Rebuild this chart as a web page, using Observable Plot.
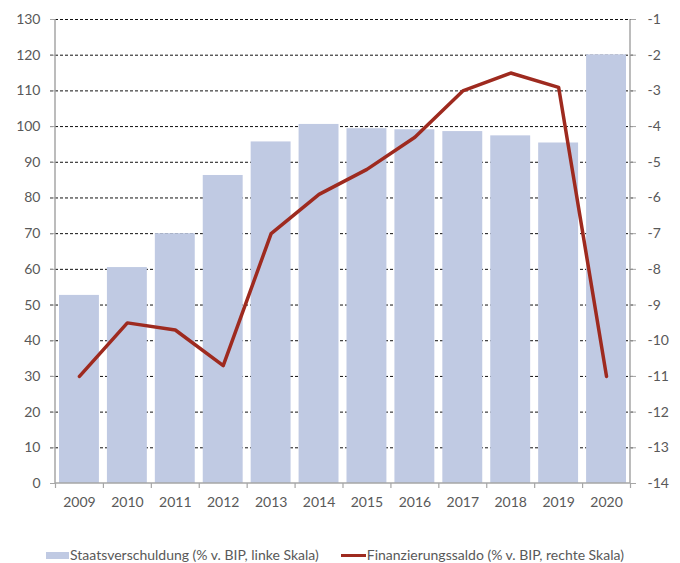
<!DOCTYPE html>
<html>
<head>
<meta charset="utf-8">
<script src="https://cdn.jsdelivr.net/npm/d3@7"></script>
<script src="https://cdn.jsdelivr.net/npm/@observablehq/plot@0.6"></script>
<style>
  html, body { margin: 0; padding: 0; background: #fff; }
  #chart { width: 680px; height: 563px; position: relative; font-family: Lato, "Open Sans", sans-serif; }
  .legend { display: flex; justify-content: center; align-items: center; gap: 22px; margin-top: 22px; margin-left: -10px;
            font-size: 14px; line-height: 16px; color: #595959; font-family: Lato, "Open Sans", sans-serif; }
  .legend .item { display: flex; align-items: center; }
  .sw-bar { width: 23px; height: 7px; background: #c0cae3; margin-right: 1px; }
  .sw-line { width: 25px; height: 3px; background: #9e2a1f; margin-right: 1px; }
</style>
</head>
<body>
<div id="chart"></div>
<script>
const years = [2009, 2010, 2011, 2012, 2013, 2014, 2015, 2016, 2017, 2018, 2019, 2020];
const debt = [52.7, 60.5, 70.0, 86.3, 95.7, 100.6, 99.4, 99.1, 98.6, 97.4, 95.4, 120.1];
const balance = [-11.0, -9.5, -9.7, -10.7, -7.0, -5.9, -5.2, -4.3, -3.0, -2.5, -2.9, -11.0];
const leftTicks = [0, 10, 20, 30, 40, 50, 60, 70, 80, 90, 100, 110, 120, 130];
const rightTicks = [-14, -13, -12, -11, -10, -9, -8, -7, -6, -5, -4, -3, -2, -1];
const seriesNames = ["Staatsverschuldung (% v. BIP, linke Skala)", "Finanzierungssaldo (% v. BIP, rechte Skala)"];

const toLeft = v => (v + 14) * 10; // right scale [-14,-1] -> left scale [0,130]
const table = years.map((year, i) => ({year: String(year), debt: debt[i], balance: balance[i]}));
const yearStr = years.map(String);

const W = 680, H = 525, mL = 55, mR = 50, mT = 19, mB = 42;
const step = (W - mL - mR) / yearStr.length;

const textColor = "#595959";
const axisColor = "#a6a6a6";

const axisLines = (index, scales, values, dimensions) => {
  const {width, marginLeft, marginRight} = dimensions;
  const g = d3.create("svg:g").attr("stroke", axisColor).attr("stroke-width", 1.5).attr("fill", "none");
  const y0 = scales.y(0), y1 = scales.y(130);
  g.append("line").attr("x1", marginLeft).attr("x2", marginLeft).attr("y1", y0).attr("y2", y1);
  g.append("line").attr("x1", width - marginRight).attr("x2", width - marginRight).attr("y1", y0).attr("y2", y1);
  g.append("line").attr("x1", marginLeft).attr("x2", width - marginRight).attr("y1", y0).attr("y2", y0);
  return g.node();
};

const plot = Plot.plot({
  width: W,
  height: H,
  marginTop: mT,
  marginBottom: mB,
  marginLeft: mL,
  marginRight: mR,
  style: {fontFamily: "Lato, 'Open Sans', sans-serif", fontSize: "14px", color: textColor, background: "#fff"},
  x: {type: "band", domain: yearStr, padding: 0, round: false, axis: null},
  y: {domain: [0, 130], axis: null},
  marks: [
    Plot.ruleY(leftTicks.filter(t => t > 0), {stroke: "#111", strokeWidth: 1, strokeDasharray: "3,2", insetLeft: -5, insetRight: -5}),
    Plot.barY(table, {x: "year", y: "debt", fill: "#c0cae3", insetLeft: 4, insetRight: 4}),
    Plot.line(table, {x: "year", y: d => toLeft(d.balance), stroke: "#9e2a1f", strokeWidth: 3.5}),
    axisLines,
    Plot.ruleX(yearStr, {x: d => d, y1: 0, y2: -1.4, dx: -step / 2, stroke: axisColor, strokeWidth: 1.2}),
    Plot.ruleX(yearStr.slice(-1), {x: d => d, y1: 0, y2: -1.4, dx: step / 2, stroke: axisColor, strokeWidth: 1.2}),
    Plot.axisY(leftTicks, {anchor: "left", tickSize: 5, tickPadding: 10, stroke: axisColor, fill: textColor, fontSize: 14, label: null}),
    Plot.axisY(rightTicks.map(toLeft), {anchor: "right", tickSize: 5, tickPadding: 12, stroke: axisColor, fill: textColor, fontSize: 14, label: null,
      tickFormat: t => String(Math.round(t / 10 - 14)).replace("\u2212", "-")}),
    Plot.axisX(yearStr, {anchor: "bottom", tickSize: 0, tickPadding: 14, fill: textColor, fontSize: 14, label: null})
  ]
});

const root = document.getElementById("chart");
root.appendChild(plot);
const legend = document.createElement("div");
legend.className = "legend";
legend.innerHTML = `<div class="item"><div class="sw-bar"></div><span>${seriesNames[0]}</span></div>
<div class="item"><div class="sw-line"></div><span>${seriesNames[1]}</span></div>`;
root.appendChild(legend);
</script>
</body>
</html>
